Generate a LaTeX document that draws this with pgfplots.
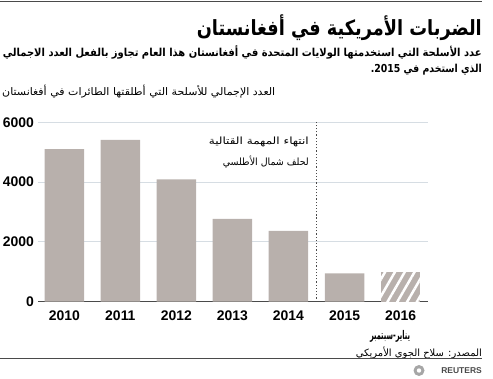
\documentclass[border=0pt]{standalone}
\usepackage{pgfplots}
\pgfplotsset{compat=1.18}
\usepackage{fontspec}
\setmainfont{Liberation Sans}
\newfontfamily\arabicfont[Script=Arabic]{DejaVu Sans}
\usetikzlibrary{patterns.meta}
\TeXXeTstate=1
\definecolor{barc}{HTML}{B8B0AC}
\definecolor{gridc}{HTML}{D6DDE3}
\definecolor{axc}{HTML}{4A4A4A}
\newsavebox\fitbox
\newcommand\fitw[2]{\sbox\fitbox{#2}\pgfmathsetmacro\fitfac{#1/\wd\fitbox}\scalebox{\fitfac}[1]{\usebox\fitbox}}
\begin{document}
\begin{tikzpicture}[x=1bp,y=1bp]
\useasboundingbox (0,0) rectangle (493,378);
\draw[axc, line width=1.6bp] (0,376.5) -- (482,376.5);
\node[anchor=east, inner sep=0] at (482,350) {\fitw{285bp}{\arabicfont\bfseries\fontsize{21}{21}\selectfont\beginR الضربات الأمريكية في أفغانستان\endR}};
\node[anchor=east, inner sep=0] at (482,326) {\fitw{479bp}{\arabicfont\bfseries\fontsize{11}{11}\selectfont\beginR عدد الأسلحة التي استخدمتها الولايات المتحدة في أفغانستان هذا العام تجاوز بالفعل العدد الاجمالي\endR}};
\node[anchor=east, inner sep=0] at (482,308) {\fitw{111bp}{\arabicfont\bfseries\fontsize{11}{11}\selectfont\beginR الذي استخدم في \beginL2015.\endL\endR}};
\node[anchor=west, inner sep=0] at (2,286) {\fitw{273bp}{\arabicfont\fontsize{10.5}{10.5}\selectfont\beginR العدد الإجمالي للأسلحة التي أطلقتها الطائرات في أفغانستان\endR}};
\begin{axis}[
  at={(38bp,76.3bp)}, anchor=south west,
  scale only axis, width=390bp, height=179.5bp,
  xmin=-0.47, xmax=6.49, ymin=0, ymax=6000,
  clip=false,
  axis lines=left,
  y axis line style={draw=none},
  x axis line style={draw=axc, line width=1bp, -},
  major tick length=0pt,
  ytick={0,2000,4000,6000},
  xtick={0,1,2,3,4,5,6},
  xticklabels={2010,2011,2012,2013,2014,2015,2016},
  /pgf/number format/1000 sep={},
  /pgf/number format/assume math mode=true,
  ymajorgrids, grid style={gridc, line width=1bp},
  ticklabel style={font=\bfseries\fontsize{14}{14}\selectfont, text=black},
  yticklabel style={anchor=east, inner sep=0pt, xshift=-4bp},
  xticklabel style={yshift=-6bp},
  ybar, bar width=39.5bp,
]
\addplot[fill=barc, draw=none, bar shift=0pt] coordinates {(0,5100) (1,5410) (2,4090) (3,2770) (4,2370) (5,950)};
\addplot[fill=barc, draw=none, bar shift=0pt, postaction={pattern={Lines[angle=60,distance=8.5bp,line width=2.5bp]}, pattern color=white}] coordinates {(6,980)};
\addplot[sharp plot, axc, line width=1.2bp, dotted, forget plot] coordinates {(4.5,0) (4.5,6000)};
\end{axis}
\node[anchor=east, inner sep=0] at (309,236) {\fitw{100bp}{\arabicfont\fontsize{10}{10}\selectfont\beginR انتهاء المهمة القتالية\endR}};
\node[anchor=east, inner sep=0] at (309,216) {\fitw{86bp}{\arabicfont\fontsize{10}{10}\selectfont\beginR لحلف شمال الأطلسي\endR}};
\node[inner sep=0] at (390,42) {\fitw{40bp}{\arabicfont\bfseries\fontsize{12}{12}\selectfont\beginR يناير-سبتمبر\endR}};
\node[anchor=east, inner sep=0] at (482,25) {\arabicfont\fontsize{10}{10}\selectfont\beginR المصدر: سلاح الجوي الأمريكي\endR};
\draw[axc, line width=0.8bp] (0,20) -- (482,20);
\node[anchor=east, inner sep=0, text=axc] at (482,7.5) {\bfseries\fontsize{8.5}{8.5}\selectfont REUTERS};
\fill[gray!70] (419,7.5) circle (5.5);
\fill[white] (419,7.5) circle (2.2);
\end{tikzpicture}
\end{document}
